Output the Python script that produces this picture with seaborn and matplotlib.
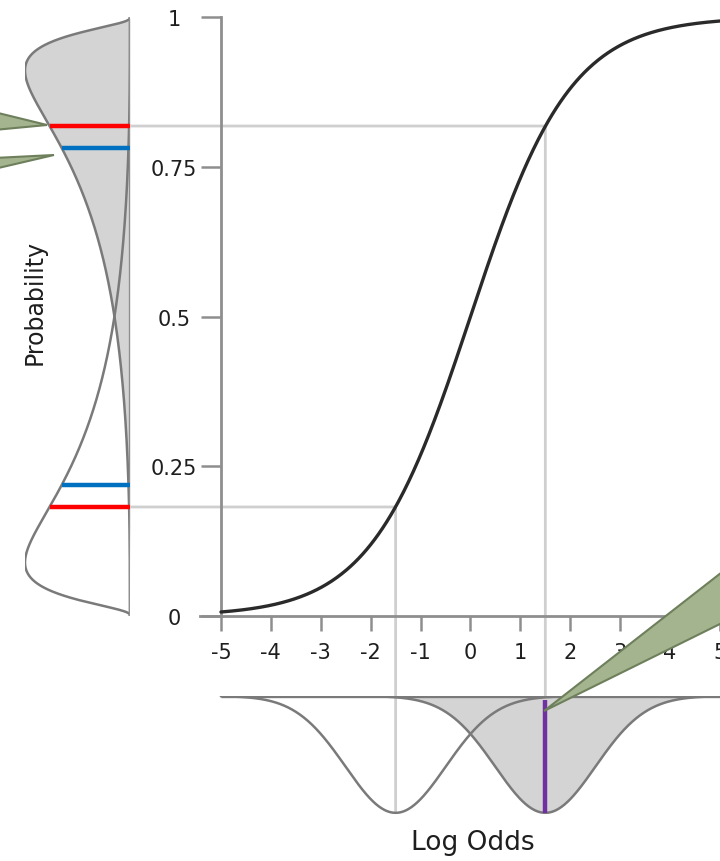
import matplotlib
matplotlib.use('Agg')
import matplotlib.pyplot as plt
from matplotlib.patches import ConnectionPatch, Polygon
import numpy as np
import pandas as pd
import seaborn as sns

# two groups on the log-odds scale (normal, same sd)
group_means = [-1.5, 1.5]
group_sd = 1.0
group_filled = [False, True]

# markers on the probability scale
prob_of_mean = [0.182, 0.818]   # red: probability at the mean log odds
mean_prob = [0.219, 0.781]      # blue: mean of the probabilities

x_ticks = [-5, -4, -3, -2, -1, 0, 1, 2, 3, 4, 5]
y_ticks = [0, 0.25, 0.5, 0.75, 1]
y_tick_labels = ['0', '0.25', '0.5', '0.75', '1']

W, H = 720, 862


def fig_px(x, y):
    return (x / W, 1 - y / H)


def norm_pdf(z, mu, sd):
    return np.exp(-0.5 * ((z - mu) / sd) ** 2) / (sd * np.sqrt(2 * np.pi))


def prob_pdf(p, mu, sd):
    return norm_pdf(np.log(p / (1 - p)), mu, sd) / (p * (1 - p))


sns.set_style('white')
plt.rcParams['font.family'] = ['DejaVu Sans']
plt.rcParams['axes.unicode_minus'] = False

logodds = np.linspace(-5, 5, 501)
curve = pd.DataFrame({'logodds': logodds, 'prob': 1 / (1 + np.exp(-logodds))})

p_grid = np.concatenate([[0.0], np.linspace(0.0005, 0.9995, 1200), [1.0]])

fig = plt.figure(figsize=(W / 100, H / 100), dpi=100)
fig.patch.set_facecolor('white')

xlim = (-5.42, 5)
ax = fig.add_axes([200 / W, 1 - 617 / H, 520 / W, 599 / H])
ax_bot = fig.add_axes([200 / W, 1 - 815 / H, 520 / W, 118 / H])
ax_left = fig.add_axes([25 / W, 1 - 617 / H, 105 / W, 599 / H])
for a in (ax, ax_bot, ax_left):
    a.set_facecolor('none')

line_grey = '#7a7a7a'
fill_grey = '#d4d4d4'
guide_grey = '#cfcfcf'

# ---- main logistic curve
sns.lineplot(data=curve, x='logodds', y='prob', ax=ax, color='#2a2a2a', lw=2.4, zorder=3)
ax.set_xlim(*xlim)
ax.set_ylim(0, 1)
ax.set_xlabel('')
ax.set_ylabel('')
for s in ('top', 'right'):
    ax.spines[s].set_visible(False)
ax.spines['left'].set_position(('data', -5))
for s in ('left', 'bottom'):
    ax.spines[s].set_color('#8e8e8e')
    ax.spines[s].set_linewidth(2)
ax.set_xticks(x_ticks)
ax.set_xticklabels([str(t) for t in x_ticks])
ax.set_yticks(y_ticks)
ax.set_yticklabels(y_tick_labels)
ax.tick_params(axis='y', left=True, length=14.4, width=1.8, color='#8e8e8e', pad=19.5,
               labelsize=15, labelcolor='#1e1e1e')
ax.tick_params(axis='x', bottom=True, length=11, width=1.8, color='#8e8e8e', pad=8,
               labelsize=15, labelcolor='#1e1e1e')
for lab in ax.get_yticklabels():
    lab.set_ha('center')

# ---- bottom densities (log-odds scale, hanging down)
peak = norm_pdf(0, 0, group_sd)
ax_bot.hlines(0, -5, 5, color=line_grey, lw=2.4, zorder=4)
for mu, filled in zip(group_means, group_filled):
    dens = norm_pdf(logodds, mu, group_sd)
    if filled:
        ax_bot.fill_between(logodds, 0, dens, color=fill_grey, lw=0, zorder=1)
    sns.lineplot(x=logodds, y=dens, ax=ax_bot, color=line_grey, lw=1.8, zorder=3)
ax_bot.vlines(group_means[1], 0.012, peak, color='#7030a0', lw=3.2, zorder=5)
ax_bot.set_xlim(*xlim)
ax_bot.set_ylim(peak * 1.01, 0)
ax_bot.axis('off')

# ---- left densities (probability scale, pointing left)
fmax = 0
for mu, filled in zip(group_means, group_filled):
    dens = np.where((p_grid > 0) & (p_grid < 1),
                    prob_pdf(np.clip(p_grid, 1e-9, 1 - 1e-9), mu, group_sd), 0.0)
    fmax = max(fmax, dens.max())
    if filled:
        ax_left.fill_betweenx(p_grid, 0, dens, color=fill_grey, lw=0, zorder=1)
for mu, filled in zip(group_means, group_filled):
    dens = np.where((p_grid > 0) & (p_grid < 1),
                    prob_pdf(np.clip(p_grid, 1e-9, 1 - 1e-9), mu, group_sd), 0.0)
    sns.lineplot(x=dens, y=p_grid, ax=ax_left, orient='y', color=line_grey,
                 lw=1.8, zorder=3 if filled else 4)
ax_left.axvline(0, 0, 1, color='#8e8e8e', lw=2.4, zorder=5)
for p, mu in zip(prob_of_mean, group_means):
    ax_left.hlines(p, 0, prob_pdf(p, mu, group_sd), color='#ff0000', lw=3.2, zorder=6)
for p, mu in zip(mean_prob, group_means):
    ax_left.hlines(p, 0, prob_pdf(p, mu, group_sd), color='#0070c0', lw=3.2, zorder=6)
ax_left.set_xlim(fmax * 1.0, 0)
ax_left.set_ylim(0, 1)
ax_left.axis('off')

# ---- guide lines linking the panels
for mu, p in zip(group_means, prob_of_mean):
    h = ConnectionPatch(xyA=(0, p), coordsA=ax_left.transData,
                        xyB=(mu, p), coordsB=ax.transData,
                        color=guide_grey, lw=2, zorder=-1)
    v = ConnectionPatch(xyA=(mu, p), coordsA=ax.transData,
                        xyB=(mu, peak), coordsB=ax_bot.transData,
                        color=guide_grey, lw=2, zorder=-1)
    fig.add_artist(h)
    fig.add_artist(v)

# ---- callout wedges
callouts = [
    [(-6, 113), (-6, 131), (47, 126)],
    [(-6, 159), (-6, 170), (54, 156)],
    [(726, 570), (726, 622), (544, 712)],
]
for pts in callouts:
    fig.add_artist(Polygon([fig_px(x, y) for x, y in pts], closed=True,
                           transform=fig.transFigure, facecolor='#a4b48f',
                           edgecolor='#6e7f5c', lw=1.5, zorder=10))

fig.text(*fig_px(35, 302), 'Probability', rotation=90, ha='center', va='center',
         fontsize=17, color='#1e1e1e')
fig.text(*fig_px(473, 843), 'Log Odds', ha='center', va='center',
         fontsize=19, color='#1e1e1e')

fig.savefig('out.png', dpi=100, facecolor='white')
